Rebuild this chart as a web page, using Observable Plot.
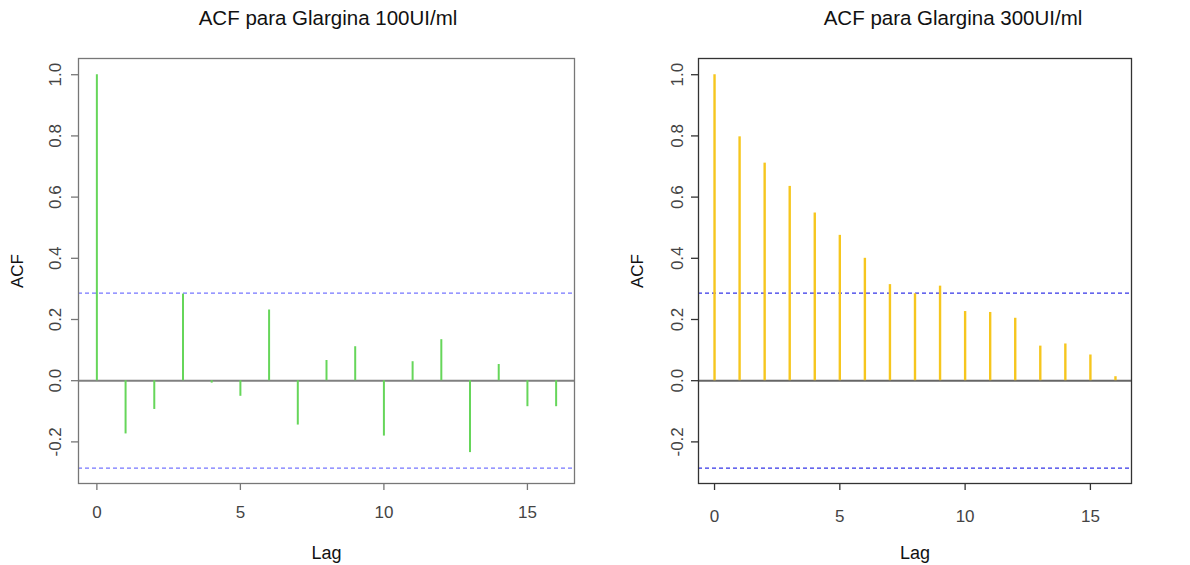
<!DOCTYPE html>
<html>
<head>
<meta charset="utf-8">
<script src="https://cdn.jsdelivr.net/npm/d3@7"></script>
<script src="https://cdn.jsdelivr.net/npm/@observablehq/plot@0.6"></script>
<style>
  body { margin: 0; background: #fff; }
  #wrap { position: relative; width: 1190px; height: 565px; background: #fff; overflow: hidden; }
  .panel { position: absolute; top: 0; }
  .title { position: absolute; top: 6px; font-family: "Liberation Sans", Arial, sans-serif; font-size: 20.5px; color: #111; white-space: nowrap; transform: translateX(-50%); }
</style>
</head>
<body>
<div id="wrap"></div>
<script>
// ---- data ----
const lags = [0, 1, 2, 3, 4, 5, 6, 7, 8, 9, 10, 11, 12, 13, 14, 15, 16];
const acf100 = [1.0, -0.174, -0.094, 0.283, -0.008, -0.051, 0.231, -0.145, 0.066, 0.111, -0.181, 0.062, 0.134, -0.235, 0.053, -0.085, -0.085];
const acf300 = [1.0, 0.797, 0.711, 0.635, 0.548, 0.475, 0.400, 0.314, 0.284, 0.309, 0.226, 0.223, 0.204, 0.113, 0.120, 0.084, 0.013];
const ciBound = 0.286;
const xTicks = [0, 5, 10, 15];
const yTicks = [-0.2, 0.0, 0.2, 0.4, 0.6, 0.8, 1.0];
const titles = ["ACF para Glargina 100UI/ml", "ACF para Glargina 300UI/ml"];

function panel({values, color, stemWidth, ciColor, frameColor, zeroColor, width, marginLeft, marginRight, yLabelDx, xLabelDy}) {
  const data = lags.map((lag, i) => ({lag, acf: values[i]}));
  return Plot.plot({
    width, height: 565,
    marginTop: 58, marginBottom: 82, marginLeft, marginRight,
    style: {fontFamily: "'Liberation Sans', Arial, sans-serif", background: "transparent", overflow: "visible"},
    x: {domain: [-0.64, 16.64]},
    y: {domain: [-0.336, 1.053]},
    marks: [
      Plot.axisX({ticks: xTicks, tickSize: 7, tickFormat: () => "", label: null, stroke: frameColor, strokeWidth: 1.3}),
      Plot.axisY({ticks: yTicks, tickSize: 7, tickFormat: () => "", label: null, stroke: frameColor, strokeWidth: 1.3}),
      Plot.text(xTicks, {x: d => d, frameAnchor: "bottom", dy: xLabelDy, text: d => String(d), textAnchor: "middle", lineAnchor: "middle", fill: "#444", fontSize: 17}),
      Plot.text(yTicks, {y: d => d, frameAnchor: "left", dx: yLabelDx, rotate: -90, text: d => d.toFixed(1), textAnchor: "middle", lineAnchor: "middle", fill: "#444", fontSize: 17}),
      Plot.ruleY([0], {stroke: zeroColor, strokeWidth: 2}),
      Plot.ruleY([ciBound, -ciBound], {stroke: ciColor, strokeWidth: 1.2, strokeDasharray: "4,3"}),
      Plot.ruleX(data, {x: "lag", y1: 0, y2: "acf", stroke: color, strokeWidth: stemWidth}),
      Plot.frame({stroke: frameColor, strokeWidth: 1.3}),
      Plot.text(["ACF"], {frameAnchor: "left", dx: -61, rotate: -90, textAnchor: "middle", lineAnchor: "middle", fill: "#111", fontSize: 17}),
      Plot.text(["Lag"], {frameAnchor: "bottom", dy: 70, textAnchor: "middle", lineAnchor: "middle", fill: "#111", fontSize: 18})
    ]
  });
}

const wrap = document.getElementById("wrap");

const left = panel({values: acf100, color: "#66d65a", stemWidth: 2, ciColor: "#7575ff", frameColor: "#777", zeroColor: "#808080", width: 595, marginLeft: 78, marginRight: 21, yLabelDx: -23, xLabelDy: 29});
left.classList.add("panel");
left.style.left = "0px";
wrap.appendChild(left);

const right = panel({values: acf300, color: "#f6c61e", stemWidth: 2.4, ciColor: "#3535e8", frameColor: "#333", zeroColor: "#666", width: 595, marginLeft: 103, marginRight: 59, yLabelDx: -21, xLabelDy: 33});
right.classList.add("panel");
right.style.left = "595px";
wrap.appendChild(right);

[[titles[0], 328], [titles[1], 953]].forEach(([t, cx]) => {
  const d = document.createElement("div");
  d.className = "title";
  d.textContent = t;
  d.style.left = cx + "px";
  wrap.appendChild(d);
});
</script>
</body>
</html>
